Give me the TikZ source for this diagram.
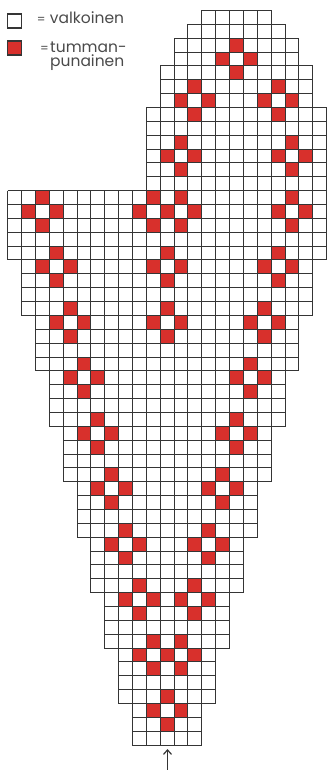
\documentclass[tikz,border=0pt]{standalone}
\usepackage{fontspec}
\setmainfont{Poppins}
\usetikzlibrary{arrows.meta}
\definecolor{chartred}{HTML}{D8302C}
\definecolor{gridgray}{HTML}{353535}
\definecolor{textgray}{HTML}{4A4A4A}

\newcommand{\eqsign}{{\fontsize{12}{12}\selectfont =}}

\begin{document}
\begin{tikzpicture}[x=1pt, y=1pt,
  declare function={gx(\c)=round(7.3+\c*13.86)+0.5; gy(\r)=-(round(10+\r*13.86)+0.5);},
  cell/.style={draw=gridgray, line width=1.2pt},
  keybox/.style={draw=gridgray, line width=1.2pt, minimum size=14pt, inner sep=0, anchor=north west},
  keytext/.style={anchor=base west, inner sep=0, text=textgray, font=\fontsize{15.5}{14.5}\selectfont}]

\useasboundingbox (0,0) rectangle (331,-770);

% ---------- Key ----------
\node[keybox, fill=white] (keywhite) at (6.5,-13.5) {};
\node[keybox, fill=chartred] (keyred) at (6.5,-40.5) {};
\node[keytext] (keywhitetxt) at (36.7,-23.3) {\makebox[13pt][l]{\eqsign}valkoinen};
\node[keytext, align=left] (keyredtxt) at (40,-66.7) {\makebox[10pt][l]{\eqsign}tumman-\\\hspace*{10pt}punainen};

% ---------- Chart ----------
% Red stitches (diamond centres col/row)
\foreach \c/\r in {16/3, 13/6, 19/6, 12/10, 20/10, 2/14, 10/14, 12/14, 20/14,
                   3/18, 11/18, 19/18, 4/22, 11/22, 18/22, 5/26, 17/26,
                   6/30, 16/30, 7/34, 15/34, 8/38, 14/38, 9/42, 13/42,
                   10/46, 12/46, 11/50}{
  \fill[chartred] ({gx(\c)},{gy(\r-1)}) rectangle ({gx(\c+1)},{gy(\r)});
  \fill[chartred] ({gx(\c-1)},{gy(\r)}) rectangle ({gx(\c)},{gy(\r+1)});
  \fill[chartred] ({gx(\c+1)},{gy(\r)}) rectangle ({gx(\c+2)},{gy(\r+1)});
  \fill[chartred] ({gx(\c)},{gy(\r+1)}) rectangle ({gx(\c+1)},{gy(\r+2)});
}

% Grid (first row/last row/first col/last col)
\foreach \ra/\rb/\ca/\cb in {0/0/14/18, 1/1/13/19, 2/3/12/20, 4/6/11/21, 7/12/10/22,
                             13/17/0/22, 18/21/1/21, 22/25/2/20, 26/29/3/19, 30/33/4/18,
                             34/37/5/17, 38/41/6/16, 42/45/7/15, 46/49/8/14, 50/52/9/13}{
  \pgfmathtruncatemacro\rz{\rb+1}
  \pgfmathtruncatemacro\cz{\cb+1}
  \foreach \r in {\ra,...,\rz}
    \draw[cell] ({gx(\ca)},{gy(\r)}) -- ({gx(\cz)},{gy(\r)});
  \foreach \c in {\ca,...,\cz}
    \draw[cell] ({gx(\c)},{gy(\ra)}) -- ({gx(\c)},{gy(\rz)});
}

% Start arrow
\coordinate (startstitch) at ({gx(11.5)},{gy(53)});
\coordinate (arrowtail) at ({gx(11.5)},-770);
\draw[gridgray, line width=1.2pt, shorten >=3.5pt, -{Straight Barb[length=4.5pt, width=8pt]}] (arrowtail) -- (startstitch);

\end{tikzpicture}
\end{document}
